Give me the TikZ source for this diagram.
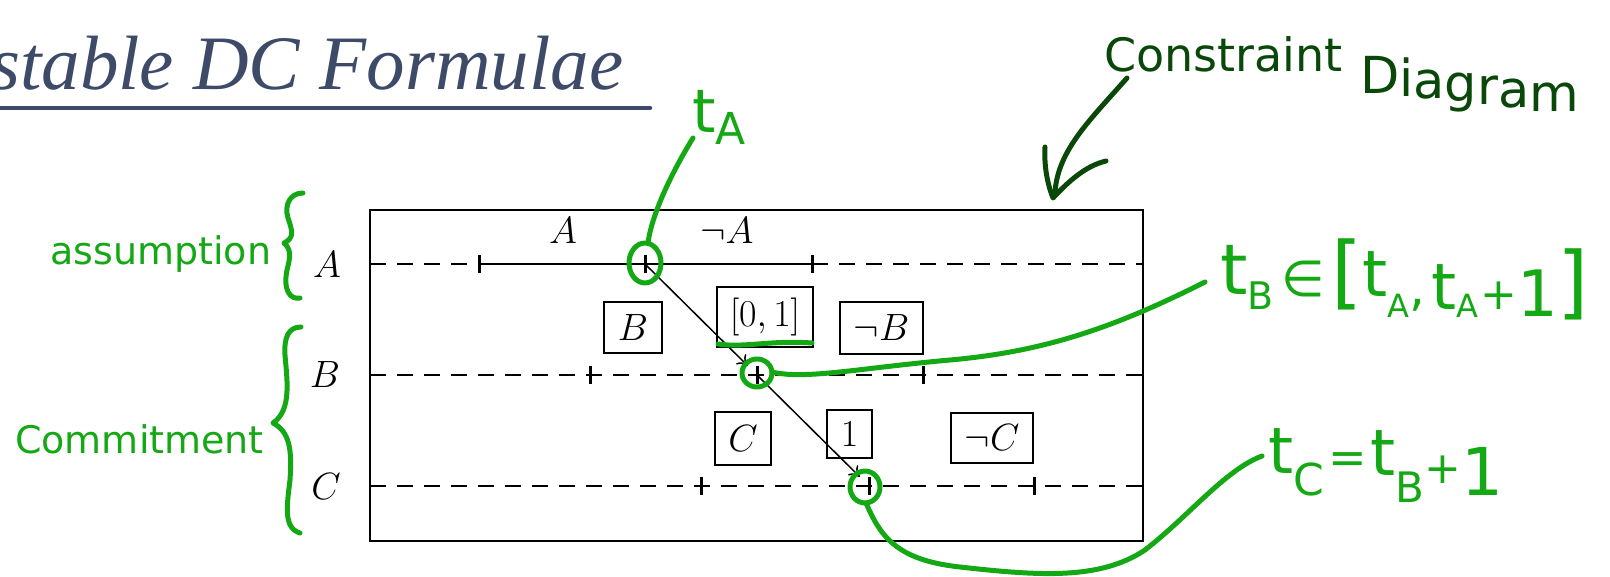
\RequirePackage{fix-cm}
\documentclass[tikz,border=0pt]{standalone}
\usepackage{fontspec}
\newfontfamily\titlefont{Liberation Serif}
\newfontfamily\handfont{DejaVu Sans}
\usetikzlibrary{arrows.meta}
\definecolor{titleblue}{RGB}{61,74,104}
\definecolor{hgreen}{RGB}{20,168,20}
\definecolor{dgreen}{RGB}{10,72,10}
\newcommand{\fs}[1]{\fontsize{#1}{#1}\selectfont}
\newcommand{\lowr}[3]{\raisebox{-#1pt}{\fs{#2}#3}}
\newcommand{\dn}[2]{\raisebox{-#1pt}{#2}}
\begin{document}
\begin{tikzpicture}[x=1pt,y=-1pt,
  mlab/.style={font=\fs{38}, inner sep=0pt},
  mbox/.style={draw, line width=2.2pt, font=\fs{38}, inner sep=1pt},
  frame/.style={draw, line width=2pt, inner sep=0pt},
  sline/.style={line width=2pt},
  dline/.style={line width=2pt, dash pattern=on 16pt off 11pt},
  tickmark/.style={line width=3pt},
  conn/.style={line width=1.5pt, -{To[length=10pt,width=14pt]}, shorten >=13pt},
  hand/.style={draw=hgreen, line width=5pt, line cap=round, line join=round},
  dhand/.style={draw=dgreen, line width=5pt, line cap=round, line join=round},
  htext/.style={text=hgreen, inner sep=0pt, font=\handfont},
  dtext/.style={text=dgreen, inner sep=0pt, font=\handfont},
]
\useasboundingbox (0,0) rectangle (1610,577);

% title
\node[anchor=base west, inner sep=0pt, text=titleblue, font=\titlefont\itshape\fs{77}] (title) at (-10,90) {stable DC Formulae};
\coordinate (ul0) at (-10,108);
\coordinate (ul1) at (650,108);
\draw[titleblue, line width=4.5pt, line cap=round] (ul0) -- (ul1);

% frame
\node[frame, minimum width=773pt, minimum height=331pt] (frame) at (756.5,375.5) {};

% lines
\coordinate (a0) at (370,264); \coordinate (a1) at (479,264); \coordinate (a2) at (645,264);
\coordinate (a3) at (812,264); \coordinate (a4) at (1143,264);
\coordinate (b0) at (370,375); \coordinate (b1) at (590,375); \coordinate (b2) at (757,375);
\coordinate (b3) at (923,375); \coordinate (b4) at (1143,375);
\coordinate (c0) at (370,486); \coordinate (c1) at (701,486); \coordinate (c2) at (869,486);
\coordinate (c3) at (1034,486); \coordinate (c4) at (1143,486);
\draw[dline] (a0) -- (a1);
\draw[sline] (a1) -- (a3);
\draw[dline] (a3) -- (a4);
\draw[dline] (b0) -- (b4);
\draw[dline] (c0) -- (c4);
\foreach \p in {a1,a2,a3,b1,b2,b3,c1,c2,c3}
  \draw[tickmark] ([yshift=9pt]\p) -- ([yshift=-9pt]\p);

% row labels
\node[mlab, anchor=base] (la) at (327,278) {$A$};
\node[mlab, anchor=base] (lb) at (325,388) {$B$};
\node[mlab, anchor=base] (lc) at (326,499) {$C$};
\node[mlab, anchor=base] (pa) at (563,244) {$A$};
\node[mlab, anchor=base] (na) at (727,244) {$\neg A$};

% boxes
\node[mbox, minimum width=58pt, minimum height=51pt] (bB) at (633,327.5) {$B$};
\node[mbox, minimum width=96pt, minimum height=60pt] (i01) at (765,317) {$[0,1]$};
\node[mbox, minimum width=83pt, minimum height=52pt] (nB) at (881.5,328) {$\neg B$};
\node[mbox, minimum width=56pt, minimum height=53pt] (bC) at (743,438.5) {$C$};
\node[mbox, minimum width=45pt, minimum height=48pt] (i1) at (849.5,434) {$1$};
\node[mbox, minimum width=82pt, minimum height=50pt] (nC) at (992,438) {$\neg C$};

% arrows
\draw[conn] (a2) -- (b2);
\draw[conn] (b2) -- (c2);

% ---- green annotations ----
\node[htext, anchor=base west] (tA) at (692,133) {\fs{60}t\lowr{12}{44}{A}};
\coordinate (tAe) at (693,138);
\coordinate (eA) at (648,243);
\draw[hand] (tAe) .. controls (675,167) and (652,212) .. (eA);
\draw[hand] (645,263) ellipse [x radius=16, y radius=20];

\node[htext, anchor=base west] (tB) at (1220,295) {\fs{70}t\lowr{15}{38}{B}\hspace{8pt}\lowr{2}{50}{∈}\hspace{6pt}\lowr{5}{80}{[}\lowr{2}{64}{t}\lowr{23}{32}{A}\lowr{11}{50}{,}\hspace{6pt}\lowr{15}{64}{t}\lowr{23}{32}{A}\hspace{2pt}\lowr{15}{44}{+}\lowr{22}{64}{1}\lowr{15}{80}{]}};
\draw[hand] (757,373) ellipse [x radius=15, y radius=14];
\coordinate (eB) at (772,372);
\coordinate (tBe) at (1205,282);
\draw[hand] (eB) .. controls (805,380) and (860,368) .. (950,360) .. controls (1040,352) and (1110,330) .. (tBe);
\coordinate (u0) at (718,344);
\coordinate (u1) at (812,343);
\draw[hand] (u0) .. controls (745,348) and (770,340) .. (u1);

\node[htext, anchor=base west] (tC) at (1268,473) {\fs{64}t\lowr{22}{44}{C}\hspace{4pt}\lowr{0}{46}{=}\hspace{4pt}\lowr{2}{64}{t}\lowr{29}{42}{B}\lowr{10}{44}{+}\lowr{22}{66}{1}};
\draw[hand] (865,487) ellipse [x radius=15, y radius=16];
\coordinate (eC) at (866,503);
\coordinate (tCe) at (1262,456);
\draw[hand] (eC) .. controls (880,535) and (895,560) .. (960,567) .. controls (1040,576) and (1100,580) .. (1145,550) .. controls (1190,515) and (1225,470) .. (tCe);

% braces and labels
\node[htext, anchor=base west] (asm) at (50,265) {\fs{38}assumption};
\draw[hand] (303,193) .. controls (290,193) and (284,205) .. (288,218) .. controls (292,230) and (295,238) .. (284,243) .. controls (292,250) and (290,258) .. (287,270) .. controls (283,290) and (290,300) .. (300,298);
\node[htext, anchor=base west] (cmt) at (15,453) {\fs{38}Commitment};
\draw[hand] (301,327) .. controls (288,327) and (284,338) .. (285,355) .. controls (287,380) and (292,410) .. (273,423) .. controls (290,432) and (292,450) .. (290,480) .. controls (287,505) and (283,528) .. (300,533);

% constraint diagram
\node[dtext, anchor=base west] (cons) at (1104,72) {\fs{46}Constraint};
\node[dtext, anchor=base west] (diag) at (1360,94) {\fs{51}\dn{0}{D}\dn{3}{i}\dn{5}{a}\dn{8}{g}\dn{11}{r}\dn{14}{a}\dn{18}{m}};
\coordinate (s0) at (1127,78);
\coordinate (tip) at (1053,198);
\coordinate (arm1) at (1045,147);
\coordinate (arm2) at (1106,161);
\draw[dhand] (s0) .. controls (1090,120) and (1058,150) .. (1055,192);
\draw[dhand] (arm1) .. controls (1044,165) and (1047,183) .. (tip) .. controls (1068,182) and (1085,166) .. (arm2);
\end{tikzpicture}
\end{document}
